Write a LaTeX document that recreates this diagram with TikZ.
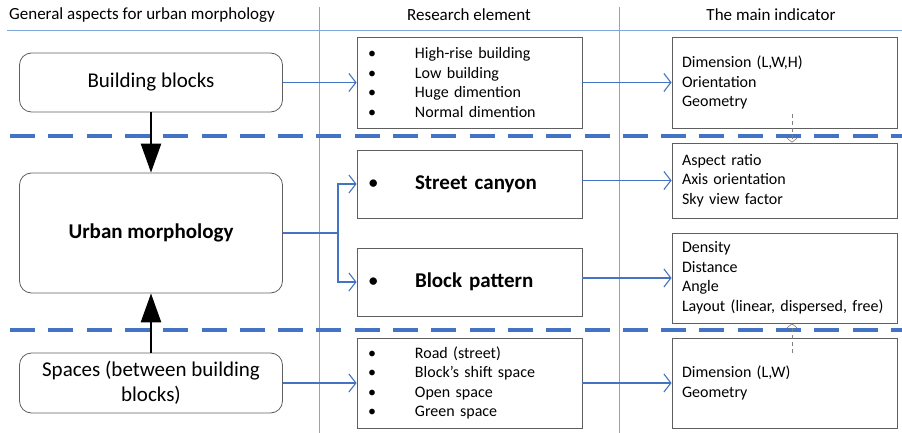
\documentclass[tikz,border=0pt]{standalone}
\usepackage{fontspec}
\setmainfont{Carlito}
\usetikzlibrary{arrows.meta}
\definecolor{lineblue}{RGB}{68,114,196}
\definecolor{gridblue}{RGB}{130,165,220}
\definecolor{boxgray}{RGB}{95,95,95}
\newcommand{\bigtext}{\fontsize{21}{25}\selectfont}
\newcommand{\smalltext}{\fontsize{16}{19.5}\selectfont}
\newcommand{\headtext}{\fontsize{17}{20}\selectfont}
\newcommand{\itm}[1]{\makebox[47pt][l]{\textbullet}#1}

\begin{document}
\begin{tikzpicture}[x=1pt,y=-1pt]
        \tikzstyle{every node}=[font=\smalltext]
        \tikzstyle{aspect}=[draw=boxgray, line width=0.8pt, rounded corners=12pt, minimum width=263pt, font=\bigtext, align=center]
        \tikzstyle{element}=[draw=boxgray, line width=0.8pt, text width=203pt, inner xsep=11pt, inner ysep=2pt, align=left]
        \tikzstyle{indicator}=[draw=boxgray, line width=0.8pt, text width=205pt, inner xsep=10pt, inner ysep=2pt, align=left]
        \tikzstyle{link}=[draw=lineblue, line width=1.1pt, -{Straight Barb[length=7pt,width=18pt]}]
        \tikzstyle{push}=[draw=black, line width=2.6pt, -{Triangle[length=29pt,width=20pt]}]
        \tikzstyle{hint}=[draw=gray, line width=0.6pt, dash pattern=on 4pt off 3pt, -{Straight Barb[length=4pt,width=10pt]}]
        \tikzstyle{grid}=[draw=gridblue, line width=0.8pt]
        \tikzstyle{band}=[draw=lineblue, line width=3.2pt, dash pattern=on 25pt off 13.3pt]
        \useasboundingbox (0,0) rectangle (902,433);
        \draw[grid] (7,30) -- (902,30);
        \draw[grid] (319,7) -- (319,433);
        \draw[grid] (619,7) -- (619,433);
        \draw[band] (10,136) -- (902,136);
        \draw[band] (10,330) -- (902,330);
        \node[font=\headtext] (hasp) at (142,15) {General aspects for urban morphology};
        \node[font=\headtext] (helt) at (469,15) {Research element};
        \node[font=\headtext] (hind) at (771,15) {The main indicator};
        \node[aspect, minimum height=59pt] (blocks) at (151,82.5) {Building blocks};
        \node[aspect, minimum height=120pt] (morph) at (151,233) {\textbf{Urban morphology}};
        \node[aspect, minimum height=60pt] (spaces) at (151,383) {Spaces (between building\\blocks)};
        \node[element, minimum height=91pt] (elblocks) at (469.5,82.5) {\itm{High-rise building}\\\itm{Low building}\\\itm{Huge dimention}\\\itm{Normal dimention}};
        \node[element, minimum height=68pt, font=\bigtext] (elcanyon) at (469.5,184) {\makebox[47pt][l]{\textbullet}\textbf{Street canyon}};
        \node[element, minimum height=68pt, font=\bigtext] (elpattern) at (469.5,282) {\makebox[47pt][l]{\textbullet}\textbf{Block pattern}};
        \node[element, minimum height=90pt] (elspaces) at (469.5,383) {\itm{Road (street)}\\\itm{Block’s shift space}\\\itm{Open space}\\\itm{Green space}};
        \node[indicator, minimum height=91pt] (inblocks) at (784.5,82.5) {Dimension (L,W,H)\\Orientation\\Geometry};
        \node[indicator, minimum height=75pt] (incanyon) at (784.5,180.5) {Aspect ratio\\Axis orientation\\Sky view factor};
        \node[indicator, minimum height=90pt] (inpattern) at (784.5,278) {Density\\Distance\\Angle\\Layout (linear, dispersed, free)};
        \node[indicator, minimum height=90pt] (inspaces) at (784.5,383) {Dimension (L,W)\\Geometry};
        \coordinate (fork) at (338,233);
        \coordinate (down) at (792,114);
        \coordinate (up) at (792,353);
        \draw[link] (blocks) -- (elblocks);
        \draw[link] (elblocks) -- (inblocks);
        \draw[link] (morph.east) -- (fork) |- (elcanyon.west);
        \draw[link] (fork) |- (elpattern.west);
        \draw[link] (elcanyon.east |- incanyon.west) -- (incanyon.west);
        \draw[link] (elpattern.east |- inpattern.west) -- (inpattern.west);
        \draw[link] (spaces) -- (elspaces);
        \draw[link] (elspaces) -- (inspaces);
        \draw[push] (blocks) -- (morph);
        \draw[push] (spaces) -- (morph);
        \draw[hint] (down) -- (down |- incanyon.north);
        \draw[hint] (up) -- (up |- inpattern.south);
    \end{tikzpicture}
\end{document}
